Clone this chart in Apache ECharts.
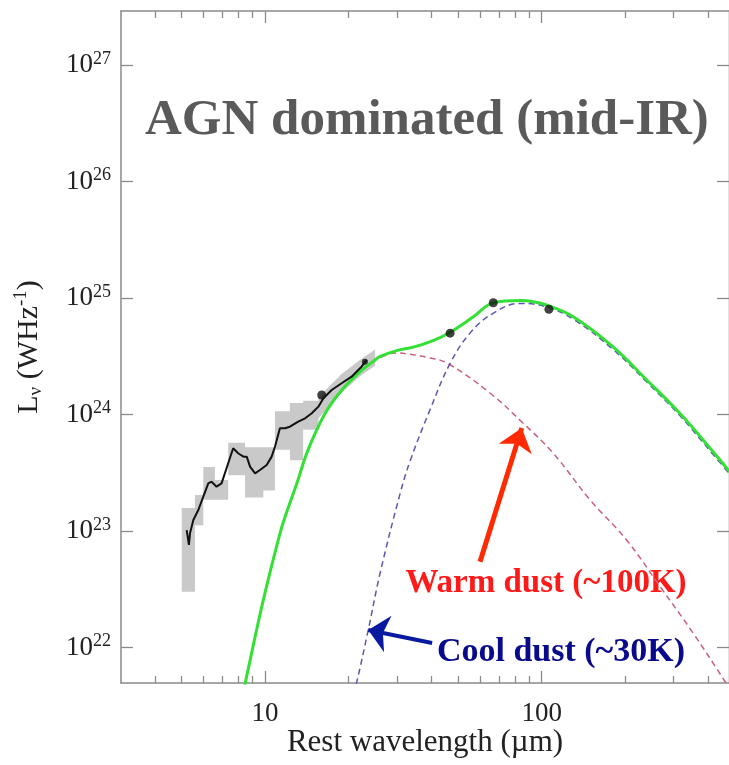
<!DOCTYPE html>
<html><head><meta charset="utf-8">
<script src="https://cdn.jsdelivr.net/npm/echarts@6/dist/echarts.min.js"></script>
<style>html,body{margin:0;padding:0;background:#fff}#c{width:729px;height:765px}</style>
</head><body><div id="c"></div>
<script>
// All values are log10: x = log10(rest wavelength / µm), y = log10(L_nu / W Hz^-1)
const totalX = [0.905, 0.928, 0.994, 1.054, 1.072, 1.115, 1.156, 1.217, 1.277, 1.349, 1.398, 1.416, 1.476, 1.536, 1.600, 1.657, 1.753, 1.825, 1.922, 1.970, 2.019, 2.114, 2.259, 2.379, 2.500, 2.620, 2.690];
const totalY = [21.43, 21.69, 22.41, 22.98, 23.12, 23.41, 23.70, 24.01, 24.21, 24.38, 24.47, 24.50, 24.55, 24.58, 24.63, 24.69, 24.84, 24.96, 24.98, 24.97, 24.94, 24.84, 24.58, 24.30, 24.01, 23.68, 23.48];

const warmX = [1.156, 1.217, 1.277, 1.349, 1.398, 1.416, 1.470, 1.520, 1.590, 1.657, 1.813, 1.932, 2.041, 2.175, 2.307, 2.428, 2.547, 2.663, 2.690];
const warmY = [23.70, 24.01, 24.21, 24.38, 24.47, 24.49, 24.53, 24.52, 24.49, 24.444, 24.186, 23.929, 23.671, 23.268, 22.924, 22.524, 22.126, 21.708, 21.60];

const coolX = [1.310, 1.331, 1.373, 1.416, 1.488, 1.524, 1.596, 1.669, 1.741, 1.824, 1.922, 2.018, 2.114, 2.258, 2.380, 2.500, 2.619, 2.690];
const coolY = [21.52, 21.70, 22.15, 22.64, 23.32, 23.60, 24.04, 24.44, 24.70, 24.87, 24.955, 24.925, 24.82, 24.56, 24.28, 23.99, 23.66, 23.46];

const specX = [0.717, 0.725, 0.729, 0.741, 0.759, 0.777, 0.795, 0.807, 0.825, 0.843, 0.867, 0.885, 0.903, 0.922, 0.934, 0.946, 0.964, 0.982, 1.006, 1.024, 1.036, 1.054, 1.072, 1.090, 1.120, 1.145, 1.169, 1.193, 1.211, 1.241, 1.277, 1.313, 1.349, 1.368];
const specY = [23.010, 22.882, 22.982, 23.096, 23.182, 23.296, 23.411, 23.425, 23.382, 23.411, 23.583, 23.712, 23.669, 23.640, 23.640, 23.554, 23.497, 23.525, 23.568, 23.640, 23.725, 23.883, 23.883, 23.897, 23.940, 23.969, 24.012, 24.069, 24.141, 24.212, 24.270, 24.326, 24.412, 24.470];

// uncertainty band: stepped part (segment edges + per-segment limits), then smooth tail
const bandEdges = [0.699, 0.747, 0.777, 0.819, 0.867, 0.928, 0.994, 1.036, 1.090, 1.138, 1.193];
const bandLow  = [22.48, 23.05, 23.27, 23.27, 23.48, 23.29, 23.35, 23.70, 23.61, 23.87];
const bandHigh = [23.20, 23.31, 23.55, 23.44, 23.76, 23.72, 23.72, 24.03, 24.10, 24.12];
const tailX    = [1.193, 1.277, 1.349, 1.398];
const tailLow  = [23.97, 24.19, 24.34, 24.42];
const tailHigh = [24.15, 24.35, 24.48, 24.56];

const photX = [1.205, 1.361, 1.669, 1.825, 2.026];
const photY = [24.169, 24.455, 24.700, 24.961, 24.905];

const xMajorTicks = [10, 100];
const xMinorTicks = [4, 5, 6, 7, 8, 9, 20, 30, 40, 50, 60, 70, 80, 90, 200, 300, 400];
const yTickExponents = [22, 23, 24, 25, 26, 27];

const X_MIN = 0.4796, X_MAX = 2.6769, Y_MIN = 21.697, Y_MAX = 27.465;
const FONT = '"Liberation Serif", "Times New Roman", serif';

const zip = (a, b) => a.map((v, i) => [v, b[i]]);
const upper = [], lower = [];
for (let i = 0; i < bandLow.length; i++) {
  upper.push([bandEdges[i], bandHigh[i]], [bandEdges[i + 1], bandHigh[i]]);
  lower.push([bandEdges[i], bandLow[i]], [bandEdges[i + 1], bandLow[i]]);
}
for (let i = 0; i < tailX.length; i++) {
  upper.push([tailX[i], tailHigh[i]]);
  lower.push([tailX[i], tailLow[i]]);
}

const axisCol = '#8a8a8a';
function xAx(pos, ticks, len, labels, line) {
  return {
    type: 'value', position: pos, min: X_MIN, max: X_MAX,
    axisLine: { show: line, onZero: false, lineStyle: { color: axisCol, width: 1.5 } },
    axisTick: { show: true, inside: true, length: len, customValues: ticks.map(Math.log10), lineStyle: { color: axisCol, width: 1.3 } },
    axisLabel: labels ? { show: true, customValues: ticks.map(Math.log10), margin: 17, fontFamily: FONT, fontSize: 27, color: '#222',
      formatter: v => String(Math.round(Math.pow(10, v))) } : { show: false },
    splitLine: { show: false }
  };
}
function yAx(pos, labels, lineCol) {
  return {
    type: 'value', position: pos, min: Y_MIN, max: Y_MAX,
    axisLine: { show: true, onZero: false, lineStyle: { color: lineCol, width: 1.5 } },
    axisTick: { show: true, inside: true, length: 12, customValues: yTickExponents, lineStyle: { color: axisCol, width: 1.3 } },
    axisLabel: labels ? { show: true, customValues: yTickExponents, margin: 10,
      formatter: v => '{b|10}{s|' + v + '}',
      rich: { b: { fontFamily: FONT, fontSize: 27, color: '#222', lineHeight: 30 },
              s: { fontFamily: FONT, fontSize: 18, color: '#222', lineHeight: 18, verticalAlign: 'top' } } } : { show: false },
    splitLine: { show: false }
  };
}

const chart = echarts.init(document.getElementById('c'), null, { renderer: 'canvas' });
chart.setOption({
  animation: false,
  backgroundColor: '#fff',
  grid: { left: 121, top: 11, right: 0, bottom: 82, containLabel: false },
  xAxis: [xAx('bottom', xMajorTicks, 12, true, true), xAx('bottom', xMinorTicks, 7, false, false),
          xAx('top', xMajorTicks, 12, false, true), xAx('top', xMinorTicks, 7, false, false)],
  yAxis: [yAx('left', true, axisCol), yAx('right', false, '#d8d8d8')],
  series: [
    { type: 'custom', z: 1, silent: true, data: [0],
      renderItem: (params, api) => {
        const pts = upper.map(p => api.coord(p)).concat(lower.slice().reverse().map(p => api.coord(p)));
        return { type: 'polygon', shape: { points: pts }, style: { fill: '#c9c9c9' } };
      } },
    { type: 'line', z: 2, data: zip(warmX, warmY), showSymbol: false, smooth: 0.4, silent: true,
      lineStyle: { color: '#cc6078', width: 1.5, type: [6, 4] } },
    { type: 'line', z: 2, data: zip(coolX, coolY), showSymbol: false, smooth: 0.4, silent: true,
      lineStyle: { color: '#5858b0', width: 1.5, type: [6, 4] } },
    { type: 'line', z: 3, data: zip(totalX, totalY), showSymbol: false, smooth: 0.4, silent: true,
      lineStyle: { color: '#33e033', width: 3 },
      markLine: { silent: true, symbol: ['none', 'arrow'], label: { show: false }, animation: false,
        data: [
          [{ coord: [1.777, 22.738], symbolSize: 0, lineStyle: { color: '#ff2a00', width: 5, type: 'solid' } },
           { coord: [1.928, 23.886], symbolSize: [26, 22] }],
          [{ coord: [1.604, 22.040], symbolSize: 0, lineStyle: { color: '#0a1aa0', width: 4, type: 'solid' } },
           { coord: [1.373, 22.152], symbolSize: [28, 20] }]
        ] } },
    { type: 'line', z: 4, data: zip(specX, specY), showSymbol: false, smooth: false, silent: true,
      lineStyle: { color: '#111', width: 2 } },
    { type: 'scatter', z: 5, data: zip(photX, photY), symbol: 'circle', silent: true,
      symbolSize: (v, p) => p.dataIndex === 1 ? 6 : 9, itemStyle: { color: '#111' } }
  ],
  graphic: [
    { type: 'text', x: 145, y: 121, silent: true,
      style: { text: 'AGN dominated (mid-IR)', font: 'bold 51px ' + FONT, fill: '#5a5a5a', textAlign: 'left', textVerticalAlign: 'middle' } },
    { type: 'text', x: 29, y: 347, rotation: Math.PI / 2, silent: true,
      style: { text: '{a|L}{b|ν}{a| (WHz}{c|-1}{a|)}', textAlign: 'center', textVerticalAlign: 'middle',
        rich: { a: { fontFamily: FONT, fontSize: 30, fill: '#222', lineHeight: 34, color: '#222' },
                b: { fontFamily: FONT, fontSize: 19, fill: '#222', color: '#222', lineHeight: 18, verticalAlign: 'bottom' },
                c: { fontFamily: FONT, fontSize: 19, fill: '#222', color: '#222', lineHeight: 18, verticalAlign: 'top' } } } },
    { type: 'text', x: 425, y: 743, silent: true,
      style: { text: 'Rest wavelength (µm)', font: '31px ' + FONT, fill: '#222', textAlign: 'center', textVerticalAlign: 'middle' } },
    { type: 'text', x: 546, y: 583, silent: true,
      style: { text: 'Warm dust (~100K)', font: 'bold 33px ' + FONT, fill: '#ff1a1a', textAlign: 'center', textVerticalAlign: 'middle' } },
    { type: 'text', x: 561, y: 652, silent: true,
      style: { text: 'Cool dust (~30K)', font: 'bold 34px ' + FONT, fill: '#0a0a8c', textAlign: 'center', textVerticalAlign: 'middle' } }
  ]
});
</script></body></html>
